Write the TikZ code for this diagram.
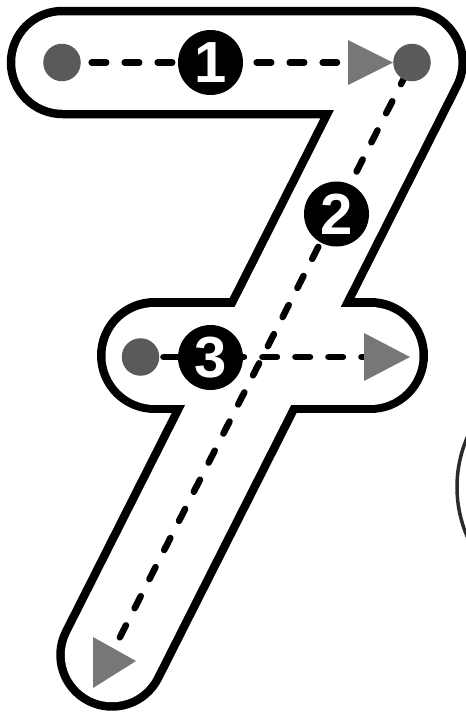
\documentclass[tikz,border=0pt]{standalone}
\usepackage{fontspec}
\setmainfont{Liberation Sans}
\pgfdeclarelayer{bg}
\pgfdeclarelayer{mid}
\pgfsetlayers{bg,mid,main}
\definecolor{dotgray}{HTML}{5A5A5A}
\definecolor{trigray}{HTML}{777777}
\definecolor{arcgray}{HTML}{2B2B2B}
\begin{document}
\begin{tikzpicture}[x=1pt,y=-1pt,
  dot/.style={circle,fill=dotgray,minimum size=37.5pt,inner sep=0pt},
  numcirc/.style={circle,fill=black,minimum size=65pt,inner sep=0pt,text=white,
    font=\fontsize{58pt}{58pt}\selectfont\bfseries},
  trail/.style={line width=6.5pt,line cap=round,dash pattern=on 14.5pt off 18.5pt},
  trailb/.style={line width=6.5pt,line cap=round,dash pattern=on 13.5pt off 19.16pt},
  tri/.style={fill=trigray},
  outer/.style={line cap=round,line join=round},
]
\useasboundingbox (0,0) rectangle (466,713);

% outline of the seven (union of thick strokes)
\begin{pgfonlayer}{bg}
  \draw[outer,line width=111.5pt] (62.5,62.5) -- (411,62.5) -- (112,655);
  \draw[outer,line width=115pt] (154.5,355.5) -- (370.5,355.5);
  \draw[outer,white,line width=94.5pt] (62.5,62.5) -- (411,62.5) -- (112,655);
  \draw[outer,white,line width=98pt] (154.5,355.5) -- (370.5,355.5);
  \begin{scope}
    \clip (0,0) rectangle (466,713);
    \draw[arcgray,line width=3.5pt] (582,487) circle[radius=125];
  \end{scope}
\end{pgfonlayer}

% arrow triangles
\fill[tri] (348,40) -- (348,85) -- (393,62.5) -- cycle;
\coordinate (t1) at (348,62.5);
\fill[tri] (364,333) -- (364,381) -- (410,357) -- cycle;
\coordinate (t3) at (364,357);
\fill[tri] (93,637) -- (93,688) -- (136,661) -- cycle;
\coordinate (t2) at (107.3,662);

% start / end dots
\node[dot] (dL) at (62,62.5) {};
\node[dot] (dR) at (412,62.5) {};
\node[dot] (dM) at (140.5,357) {};

% numbered circles
\node[numcirc] (n1) at (210.5,62.5) {1};
\node[numcirc] (n2) at (336.5,214) {2};
\node[numcirc] (n3) at (210.5,357.5) {3};

% dashed strokes
\begin{pgfonlayer}{mid}
  \draw[trail,shorten <=10.75pt,shorten >=11pt] (dL) -- (t1);
  \draw[trailb,shorten <=10.8pt,shorten >=27.65pt] (dR.center) -- (t2);
  \draw[trail,shorten <=4pt] (dM) -- (t3);
\end{pgfonlayer}
\end{tikzpicture}
\end{document}
